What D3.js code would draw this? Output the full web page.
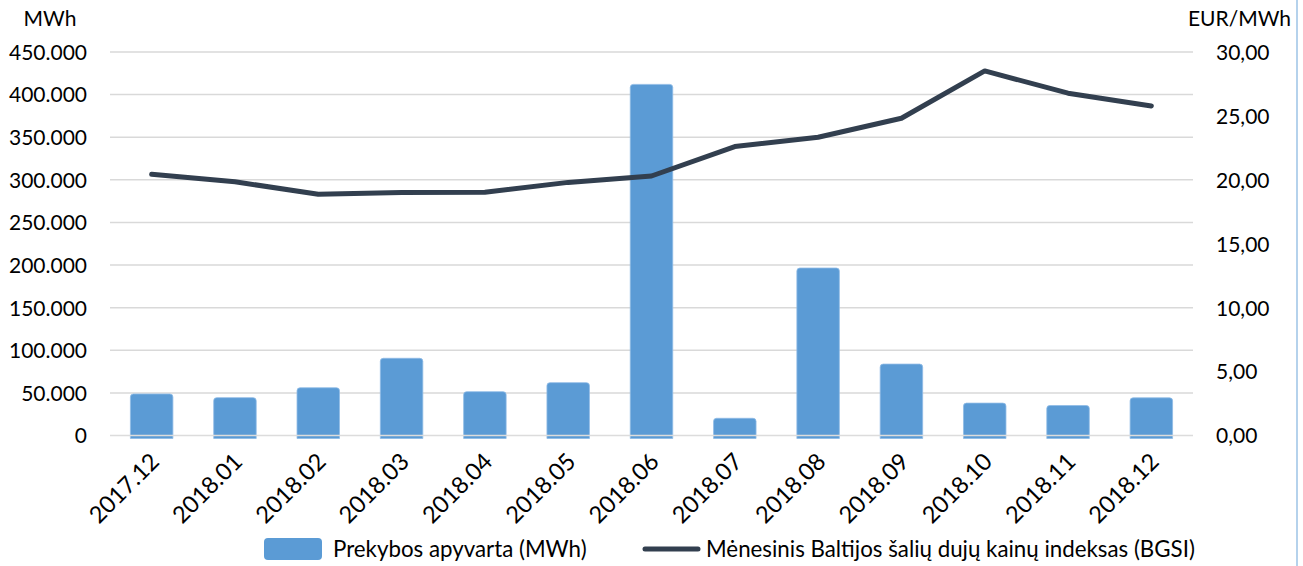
<!DOCTYPE html>
<html><head><meta charset="utf-8">
<script src="https://cdn.jsdelivr.net/npm/d3@7"></script>
<style>body{margin:0;background:#fff}svg{display:block}text{font-family:Lato,"Open Sans",sans-serif;fill:#000}</style>
</head><body><svg id="c" width="1303" height="566"></svg>
<script>
const categories = ["2017.12","2018.01","2018.02","2018.03","2018.04","2018.05","2018.06","2018.07","2018.08","2018.09","2018.10","2018.11","2018.12"];
const turnover = [48700,44400,56000,90600,51400,62000,412000,20200,196500,83800,38000,35200,44200];
const bgsi = [20.44,19.85,18.87,19.0,19.03,19.8,20.3,22.6,23.33,24.82,28.52,26.78,25.78];
const leftTicks = [0,50000,100000,150000,200000,250000,300000,350000,400000,450000];
const rightTicks = [0,5,10,15,20,25,30];
const seriesNames = ["Prekybos apyvarta (MWh)","Mėnesinis Baltijos šalių dujų kainų indeksas (BGSI)"];

const svg = d3.select("#c");
const L = 110, R = 1193, T = 52, B = 435.5;
const x = d3.scaleBand().domain(categories).range([L, R]).paddingInner(0.49).paddingOuter(0.245);
const yL = d3.scaleLinear().domain([0,450000]).range([B,T]);
const yR = d3.scaleLinear().domain([0,30]).range([B,T]);
const fmtL = v => d3.format(",")(v).replace(/,/g,".");
const fmtR = v => d3.format(".2f")(v).replace(".",",");

// gridlines
svg.append("g").selectAll("line").data(leftTicks.filter(d=>d>0)).join("line")
  .attr("x1",L).attr("x2",R).attr("y1",d=>yL(d)).attr("y2",d=>yL(d))
  .attr("stroke","#d9d9d9").attr("stroke-width",1.5);

// bars
const r = 3;
svg.append("g").selectAll("path").data(turnover).join("path")
  .attr("d",(d,i)=>{
    const x0 = x(categories[i]), w = x.bandwidth(), y0 = yL(d), yb = yL(0)+3;
    return `M${x0},${yb}V${y0+r}Q${x0},${y0} ${x0+r},${y0}H${x0+w-r}Q${x0+w},${y0} ${x0+w},${y0+r}V${yb}Z`;
  })
  .attr("fill","#5b9bd5").attr("stroke","#8fbbe6").attr("stroke-width",0.8);

// zero line on top
svg.append("line").attr("x1",L).attr("x2",R).attr("y1",yL(0)).attr("y2",yL(0))
  .attr("stroke","#dcdcdc").attr("stroke-width",1.5);

// line series
const line = d3.line().x((d,i)=>x(categories[i])+x.bandwidth()/2).y(d=>yR(d));
svg.append("path").datum(bgsi).attr("d",line).attr("fill","none")
  .attr("stroke","#323f4f").attr("stroke-width",5).attr("stroke-linejoin","round").attr("stroke-linecap","round");

// left axis
const ax = d3.axisLeft(yL).tickValues(leftTicks).tickFormat(fmtL).tickSize(0).tickPadding(0);
const gL = svg.append("g").attr("transform","translate(87,0)").call(ax);
gL.select(".domain").remove();
gL.selectAll("text").attr("font-size",21).attr("font-family","Lato").attr("fill","#000").attr("dy","0.35em");

// right axis
const axR = d3.axisRight(yR).tickValues(rightTicks).tickFormat(fmtR).tickSize(0).tickPadding(0);
const gR = svg.append("g").attr("transform","translate(1216,0)").call(axR);
gR.select(".domain").remove();
gR.selectAll("text").attr("font-size",21).attr("font-family","Lato").attr("fill","#000").attr("dy","0.35em");

// x labels
svg.append("g").selectAll("text").data(categories).join("text")
  .attr("transform",d=>`translate(${x(d)+x.bandwidth()/2+9},${463}) rotate(-45)`)
  .attr("text-anchor","end").attr("font-size",23.5).text(d=>d);

// axis titles
svg.append("text").attr("x",50).attr("y",26).attr("text-anchor","middle").attr("font-size",21).text("MWh");
svg.append("text").attr("x",1291).attr("y",26).attr("text-anchor","end").attr("font-size",21).text("EUR/MWh");

// legend
svg.append("rect").attr("x",264).attr("y",538).attr("width",58).attr("height",22).attr("rx",4).attr("fill","#5b9bd5");
svg.append("text").attr("x",333).attr("y",557).attr("font-size",22.3).text(seriesNames[0]);
svg.append("line").attr("x1",645).attr("x2",698).attr("y1",549).attr("y2",549).attr("stroke","#323f4f").attr("stroke-width",5).attr("stroke-linecap","round");
svg.append("text").attr("x",706).attr("y",557).attr("font-size",22.3).text(seriesNames[1]);

// right border
svg.append("line").attr("x1",1297).attr("x2",1297).attr("y1",0).attr("y2",566).attr("stroke","#9dc3e6").attr("stroke-width",1.5);
</script></body></html>
